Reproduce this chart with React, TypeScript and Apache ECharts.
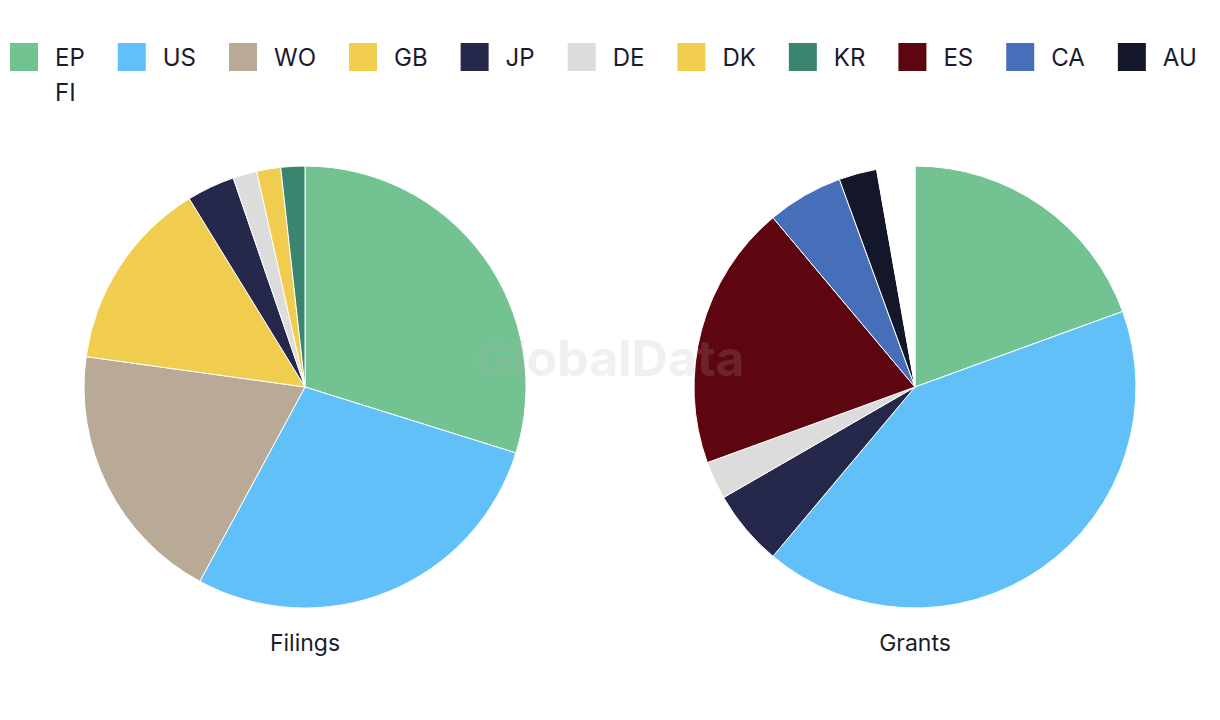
import React, { useEffect, useRef } from "react";
import * as echarts from "echarts";

const legendRow1 = ["EP", "US", "WO", "GB", "JP", "DE", "DK", "KR", "ES", "CA", "AU"];
const legendRow2 = ["FI"];
const colors: Record<string, string> = {
  EP: "#73c291",
  US: "#62c0f8",
  WO: "#b8aa96",
  GB: "#f0cd4f",
  JP: "#26284b",
  DE: "#dcdcdc",
  DK: "#f0cd4f",
  KR: "#3a8470",
  ES: "#5e0610",
  CA: "#476fb9",
  AU: "#141629",
  FI: "#ffffff",
};
const filingsNames = ["EP", "US", "WO", "GB", "JP", "DE", "DK", "KR"];
const filingsValues = [17, 16, 11, 8, 2, 1, 1, 1];
const grantsNames = ["EP", "US", "JP", "DE", "ES", "CA", "AU", "FI"];
const grantsValues = [7, 15, 2, 1, 7, 2, 1, 1];
const pieTitles = ["Filings", "Grants"];

const FONT = "Inter, 'Noto Sans', sans-serif";
const TEXT = "#1b1b2f";

export default function App() {
  const ref = useRef<HTMLDivElement>(null);
  useEffect(() => {
    document.body.style.margin = "0";
    if (!ref.current) return;
    const chart = echarts.init(ref.current, null, { renderer: "svg" });
    const mk = (names: string[], vals: number[]) =>
      names.map((n, i) => ({ name: n, value: vals[i], itemStyle: { color: colors[n] } }));
    const centers = [305, 915];
    const legendBase = {
      left: 10,
      padding: 0,
      itemWidth: 28,
      itemHeight: 28,
      itemGap: 33,
      icon: "rect",
      selectedMode: false,
      itemStyle: { borderWidth: 0 },
      textStyle: {
        fontFamily: FONT,
        fontSize: 24,
        color: TEXT,
        padding: [0, 0, 0, 12],
      },
    };
    chart.setOption({
      animation: false,
      backgroundColor: "#ffffff",
      legend: [
        { ...legendBase, data: legendRow1, top: 43 },
        { ...legendBase, data: legendRow2, top: 78 },
      ],
      graphic: [
        ...pieTitles.map((t, i) => ({
          type: "text",
          x: centers[i],
          y: 643,
          style: {
            text: t,
            fill: TEXT,
            font: `23px ${FONT}`,
            textAlign: "center",
            textVerticalAlign: "middle",
          },
        })),
        {
          type: "text",
          x: 610,
          y: 358,
          z: 100,
          style: {
            text: "GlobalData",
            fill: "rgba(170,170,170,0.18)",
            font: `bold 50px ${FONT}`,
            textAlign: "center",
            textVerticalAlign: "middle",
          },
        },
      ],
      series: [
        {
          type: "pie",
          center: [centers[0], 387],
          radius: 221,
          startAngle: 90,
          clockwise: true,
          label: { show: false },
          labelLine: { show: false },
          emphasis: { disabled: true },
          itemStyle: { borderColor: "#ffffff", borderWidth: 1 },
          data: mk(filingsNames, filingsValues),
        },
        {
          type: "pie",
          center: [centers[1], 387],
          radius: 221,
          startAngle: 90,
          clockwise: true,
          label: { show: false },
          labelLine: { show: false },
          emphasis: { disabled: true },
          itemStyle: { borderColor: "#ffffff", borderWidth: 1 },
          data: mk(grantsNames, grantsValues),
        },
      ],
    });
    return () => chart.dispose();
  }, []);
  return <div ref={ref} style={{ width: 1220, height: 720 }} />;
}
